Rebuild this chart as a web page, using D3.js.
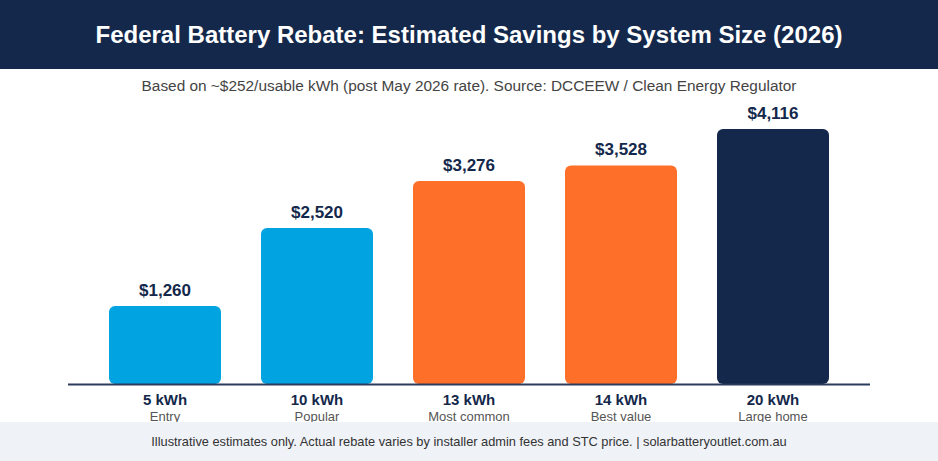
<!DOCTYPE html>
<html><head><meta charset="utf-8">
<script src="https://cdn.jsdelivr.net/npm/d3@7"></script>
<style>body{margin:0;background:#fff;} svg{display:block;font-family:"Liberation Sans",Arial,Helvetica,sans-serif;}</style>
</head><body>
<svg id="c" width="938" height="461"></svg>
<script>
const categories = ["5 kWh","10 kWh","13 kWh","14 kWh","20 kWh"];
const subLabels = ["Entry","Popular","Most common","Best value","Large home"];
const values = [1260,2520,3276,3528,4116];
const colors = ["#01A3E0","#01A3E0","#FE7029","#FE7029","#14284B"];
const title = "Federal Battery Rebate: Estimated Savings by System Size (2026)";
const subtitle = "Based on ~$252/usable kWh (post May 2026 rate). Source: DCCEEW / Clean Energy Regulator";
const footer = "Illustrative estimates only. Actual rebate varies by installer admin fees and STC price. | solarbatteryoutlet.com.au";

const svg = d3.select("#c");
const W = 938, H = 461;
svg.append("rect").attr("x",0).attr("y",0).attr("width",W).attr("height",69).attr("fill","#14284B");
svg.append("text").attr("x",W/2).attr("y",43).attr("text-anchor","middle").attr("fill","#fff")
  .attr("font-size",24).attr("font-weight","bold").text(title);
svg.append("text").attr("x",W/2).attr("y",91).attr("text-anchor","middle").attr("fill","#444")
  .attr("font-size",15.4).text(subtitle);

const x = d3.scaleBand().domain(categories).range([89,849]).paddingInner(40/152).paddingOuter(20/152);
const y = d3.scaleLinear().domain([0,4116]).range([384,129]);

const g = svg.append("g");
g.selectAll("rect.bar").data(values).join("rect").attr("class","bar")
  .attr("x",(d,i)=>x(categories[i])).attr("width",x.bandwidth())
  .attr("y",d=>y(d)).attr("height",d=>y(0)-y(d))
  .attr("rx",6).attr("ry",6).attr("fill",(d,i)=>colors[i]);
g.selectAll("text.val").data(values).join("text").attr("class","val")
  .attr("x",(d,i)=>x(categories[i])+x.bandwidth()/2).attr("y",d=>y(d)-10)
  .attr("text-anchor","middle").attr("font-size",17).attr("font-weight","bold").attr("fill","#14284B")
  .text(d=>"$"+d3.format(",")(d));

const axis = d3.axisBottom(x).tickSize(0).tickFormat("");
const ax = svg.append("g").attr("transform","translate(0,384)").call(axis);
ax.select(".domain").remove();
svg.append("line").attr("x1",68).attr("x2",870).attr("y1",384.5).attr("y2",384.5)
  .attr("stroke","#2A3B5C").attr("stroke-width",2);

g.selectAll("text.cat").data(categories).join("text").attr("class","cat")
  .attr("x",d=>x(d)+x.bandwidth()/2).attr("y",405).attr("text-anchor","middle")
  .attr("font-size",15).attr("font-weight","bold").attr("fill","#14284B").text(d=>d);
g.selectAll("text.sub").data(subLabels).join("text").attr("class","sub")
  .attr("x",(d,i)=>x(categories[i])+x.bandwidth()/2).attr("y",421).attr("text-anchor","middle")
  .attr("font-size",13).attr("fill","#555").text(d=>d);

svg.append("rect").attr("x",0).attr("y",422).attr("width",W).attr("height",H-422).attr("fill","#EFF2F7");
svg.append("text").attr("x",W/2).attr("y",446).attr("text-anchor","middle").attr("fill","#333")
  .attr("font-size",12.8).text(footer);
</script>
</body></html>
